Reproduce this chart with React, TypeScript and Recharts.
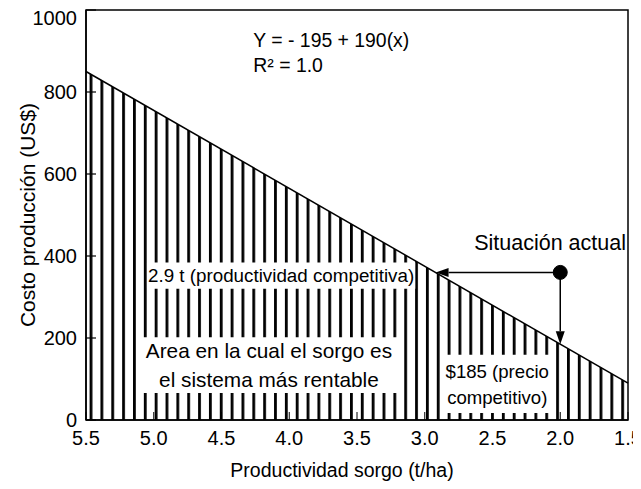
import React from 'react';
import {
  ComposedChart,
  Area,
  Line,
  XAxis,
  YAxis,
  ReferenceArea,
  ReferenceDot,
  ReferenceLine,
} from 'recharts';

const FONT = '"Liberation Sans", Arial, Helvetica, sans-serif';

// Data
const xTicks = [5.5, 5.0, 4.5, 4.0, 3.5, 3.0, 2.5, 2.0, 1.5];
const yTicks = [0, 200, 400, 600, 800, 1000];
const productividad = [5.5, 1.5];
const costo = [850, 90];
const data = productividad.map((x, i) => ({ x, y: costo[i] }));

const situacionActual = { x: 2.0, y: 360 };
const productividadCompetitiva = 2.92;
const precioCompetitivo = 185;

const ecuacion = ['Y = - 195 + 190(x)', 'R² = 1.0'];
const textoCompetitiva = ['2.9 t (productividad competitiva)'];
const textoArea = ['Area en la cual el sorgo es', 'el sistema más rentable'];
const textoPrecio = ['$185 (precio', 'competitivo)'];

const YTick = (props: any) => {
  const { x, y, payload } = props;
  const dy = payload.value === 1000 ? 8 : 0;
  return (
    <text x={x} y={y + dy + 7} textAnchor="end" fontSize={20} fontFamily={FONT} fill="#000">
      {payload.value}
    </text>
  );
};

const XTick = (props: any) => {
  const { x, y, payload } = props;
  return (
    <text x={x} y={y + 15} textAnchor="middle" fontSize={20} fontFamily={FONT} fill="#000">
      {Number(payload.value).toFixed(1)}
    </text>
  );
};

const makeText = (lines: string[], size: number, gap: number, anchor: 'start' | 'middle' | 'end') =>
  (props: any) => {
    const vb = props.viewBox || {};
    const x = vb.x ?? 0;
    const y = vb.y ?? 0;
    const w = vb.width ?? 0;
    const h = vb.height ?? 0;
    const cx = anchor === 'start' ? x : anchor === 'end' ? x + w : x + w / 2;
    const cy = y + h / 2;
    const n = lines.length;
    return (
      <text textAnchor={anchor} fontSize={size} fontFamily={FONT} fill="#000">
        {lines.map((l, i) => (
          <tspan key={i} x={cx} y={cy + (i - (n - 1) / 2) * gap + size * 0.36}>
            {l}
          </tspan>
        ))}
      </text>
    );
  };

const Arrow = (props: any) => {
  const { x1, y1, x2, y2 } = props;
  const dx = x2 - x1;
  const dy = y2 - y1;
  const len = Math.hypot(dx, dy) || 1;
  const ux = dx / len;
  const uy = dy / len;
  const L = 13;
  const W = 4.5;
  const bx = x2 - ux * L;
  const by = y2 - uy * L;
  const px = -uy;
  const py = ux;
  return (
    <g>
      <line x1={x1} y1={y1} x2={bx} y2={by} stroke="#000" strokeWidth={1.5} />
      <polygon
        points={`${x2},${y2} ${bx + px * W},${by + py * W} ${bx - px * W},${by - py * W}`}
        fill="#000"
      />
    </g>
  );
};

const YTitle = (props: any) => {
  const vb = props.viewBox || { x: 0, y: 0, width: 0, height: 0 };
  const cx = 20;
  const cy = vb.y + vb.height / 2;
  return (
    <text
      x={cx}
      y={cy}
      transform={`rotate(-90 ${cx} ${cy})`}
      textAnchor="middle"
      dy={7}
      fontSize={21}
      fontFamily={FONT}
      fill="#000"
    >
      Costo producción (US$)
    </text>
  );
};

const XTitle = (props: any) => {
  const vb = props.viewBox || { x: 0, y: 0, width: 0, height: 0 };
  return (
    <text x={vb.x + vb.width / 2 - 15} y={vb.y + 57} textAnchor="middle" fontSize={19.5} fontFamily={FONT} fill="#000">
      Productividad sorgo (t/ha)
    </text>
  );
};

export default function App() {
  return (
    <div style={{ background: '#fff', width: 633, height: 473 }}>
      <ComposedChart
        width={633}
        height={473}
        data={data}
        margin={{ top: 2, right: 13, left: 0, bottom: 0 }}
      >
        <defs>
          <pattern id="hatch" patternUnits="userSpaceOnUse" x={81.6} y={0} width={10.85} height={20}>
            <rect x={0} y={0} width={2.8} height={20} fill="#000" />
          </pattern>
        </defs>
        <XAxis
          dataKey="x"
          type="number"
          domain={[1.5, 5.5]}
          reversed
          ticks={xTicks}
          interval={0}
          height={61}
          tickSize={-8}
          tickMargin={18}
          tick={<XTick />}
          axisLine={{ stroke: '#000', strokeWidth: 1.5 }}
          tickLine={{ stroke: '#000' }}
          label={{ content: <XTitle /> }}
        />
        <YAxis
          type="number"
          domain={[0, 1000]}
          ticks={yTicks}
          interval={0}
          width={78}
          tickSize={-10}
          tickMargin={19}
          tick={<YTick />}
          axisLine={{ stroke: '#000', strokeWidth: 1.5 }}
          tickLine={{ stroke: '#000', strokeWidth: 1.2 }}
          label={{ content: <YTitle /> }}
        />
        <Area
          dataKey="y"
          type="linear"
          stroke="none"
          fill="url(#hatch)"
          fillOpacity={1}
          isAnimationActive={false}
          dot={false}
          activeDot={false}
        />
        <Line
          dataKey="y"
          type="linear"
          stroke="#000"
          strokeWidth={1.5}
          dot={false}
          activeDot={false}
          isAnimationActive={false}
        />
        <ReferenceArea
          x1={5.05}
          x2={3.07}
          y1={320}
          y2={384}
          fill="#fff"
          fillOpacity={1}
          stroke="none"
          zIndex={500}
          label={{ content: makeText(textoCompetitiva, 18.8, 0, 'middle') }}
        />
        <ReferenceArea
          x1={5.1}
          x2={3.2}
          y1={66}
          y2={202}
          fill="#fff"
          fillOpacity={1}
          stroke="none"
          zIndex={500}
          label={{ content: makeText(textoArea, 20.8, 29, 'middle') }}
        />
        <ReferenceArea
          x1={2.86}
          x2={2.07}
          y1={17}
          y2={159}
          fill="#fff"
          fillOpacity={1}
          stroke="none"
          zIndex={500}
          label={{ content: makeText(textoPrecio, 18.6, 26, 'middle') }}
        />
        <ReferenceArea
          x1={5.5}
          x2={1.5}
          y1={0}
          y2={1000}
          fill="none"
          stroke="#000"
          strokeWidth={1.5}
          zIndex={600}
        />
        <ReferenceLine
          segment={[
            { x: situacionActual.x, y: situacionActual.y },
            { x: productividadCompetitiva, y: situacionActual.y },
          ]}
          shape={<Arrow />}
          zIndex={700}
        />
        <ReferenceLine
          segment={[
            { x: situacionActual.x, y: situacionActual.y },
            { x: situacionActual.x, y: precioCompetitivo },
          ]}
          shape={<Arrow />}
          zIndex={700}
        />
        <ReferenceDot
          x={situacionActual.x}
          y={situacionActual.y}
          r={7}
          fill="#000"
          stroke="#000"
          zIndex={800}
        />
        <ReferenceDot
          x={1.515}
          y={434}
          r={0}
          fill="none"
          stroke="none"
          zIndex={800}
          label={{ content: makeText(['Situación actual'], 21.5, 0, 'end') }}
        />
        <ReferenceDot
          x={4.265}
          y={896}
          r={0}
          fill="none"
          stroke="none"
          zIndex={800}
          label={{ content: makeText(ecuacion, 19.4, 25, 'start') }}
        />
      </ComposedChart>
    </div>
  );
}
